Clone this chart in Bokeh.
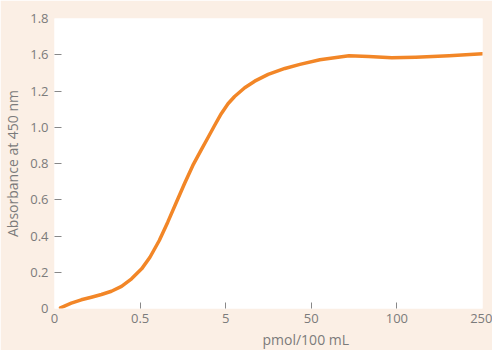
from bokeh.plotting import figure
from bokeh.models import FixedTicker, Range1d, Title
from bokeh.embed import file_html
from bokeh.resources import INLINE

# x axis: equally spaced concentrations
x_tick_labels = ["0", "0.5", "5", "50", "100", "250"]
# y axis labels as printed on the original (evenly spaced, 1.4 absent)
y_tick_labels = ["0", "0.2", "0.4", "0.6", "0.8", "1.0", "1.2", "1.6", "1.8"]

# curve (x in tick-slot units, y in axis units)
curve_x = [0.07, 0.196, 0.313, 0.431, 0.548, 0.665, 0.783, 0.900, 1.018,
           1.115, 1.224, 1.323, 1.420, 1.518, 1.616, 1.714, 1.792, 1.870,
           1.948, 2.027, 2.104, 2.222, 2.339, 2.496, 2.691, 2.867, 3.10,
           3.44, 3.67, 3.94, 4.22, 4.61, 5.0]
curve_y = [0.004, 0.033, 0.054, 0.070, 0.087, 0.107, 0.137, 0.184, 0.246,
           0.318, 0.422, 0.536, 0.655, 0.774, 0.888, 0.985, 1.060, 1.136,
           1.209, 1.271, 1.316, 1.370, 1.411, 1.453, 1.490, 1.515, 1.544,
           1.569, 1.564, 1.556, 1.560, 1.569, 1.581]

BEIGE = "#FBEFE5"
ORANGE = "#F28627"
GRAY = "#7b7b7b"
FONT = "Open Sans"

y_max = 1.8
n_y = len(y_tick_labels)
y_pos = [y_max * i / (n_y - 1) for i in range(n_y)]
x_pos = list(range(len(x_tick_labels)))

p = figure(frame_width=428, frame_height=290,
           x_range=Range1d(0, len(x_tick_labels) - 1),
           y_range=Range1d(0, y_max),
           output_backend="svg", toolbar_location=None,
           min_border_left=54, min_border_right=10,
           min_border_top=18, min_border_bottom=40)

p.background_fill_color = "white"
p.border_fill_color = BEIGE
p.outline_line_color = None
p.grid.visible = False

p.line(curve_x, curve_y, line_color=ORANGE, line_width=3.5,
       line_join="round", line_cap="round")

# x axis
xa = p.xaxis[0]
xa.ticker = FixedTicker(ticks=x_pos, minor_ticks=x_pos[1:-1])
xa.major_label_overrides = {i: s for i, s in zip(x_pos, x_tick_labels)}
xa.axis_line_color = None
xa.major_tick_line_color = None
xa.major_tick_in = 0
xa.major_tick_out = 0
xa.minor_tick_line_color = "#888888"
xa.minor_tick_in = 6
xa.minor_tick_out = 0
xa.major_label_standoff = 5
xa.major_label_text_font = FONT
xa.major_label_text_font_size = "13px"
xa.major_label_text_color = GRAY

# y axis
ya = p.yaxis[0]
ya.ticker = FixedTicker(ticks=y_pos, minor_ticks=y_pos[1:-1])
ya.major_label_overrides = {v: s for v, s in zip(y_pos, y_tick_labels)}
ya.axis_line_color = None
ya.major_tick_line_color = None
ya.major_tick_in = 0
ya.major_tick_out = 0
ya.minor_tick_line_color = "#888888"
ya.minor_tick_in = 7
ya.minor_tick_out = 0
ya.major_label_standoff = 6
ya.major_label_text_font = FONT
ya.major_label_text_font_size = "13px"
ya.major_label_text_color = GRAY
ya.axis_label = "Absorbance at 450 nm"
ya.axis_label_text_font = FONT
ya.axis_label_text_font_size = "14px"
ya.axis_label_text_font_style = "normal"
ya.axis_label_text_color = GRAY
ya.axis_label_standoff = 5

xt = Title(text="pmol/100 mL", align="left", offset=208, standoff=4,
           text_font=FONT, text_font_size="14px", text_font_style="normal",
           text_color=GRAY)
p.add_layout(xt, "below")

open("out.html", "w").write(file_html(p, INLINE))
